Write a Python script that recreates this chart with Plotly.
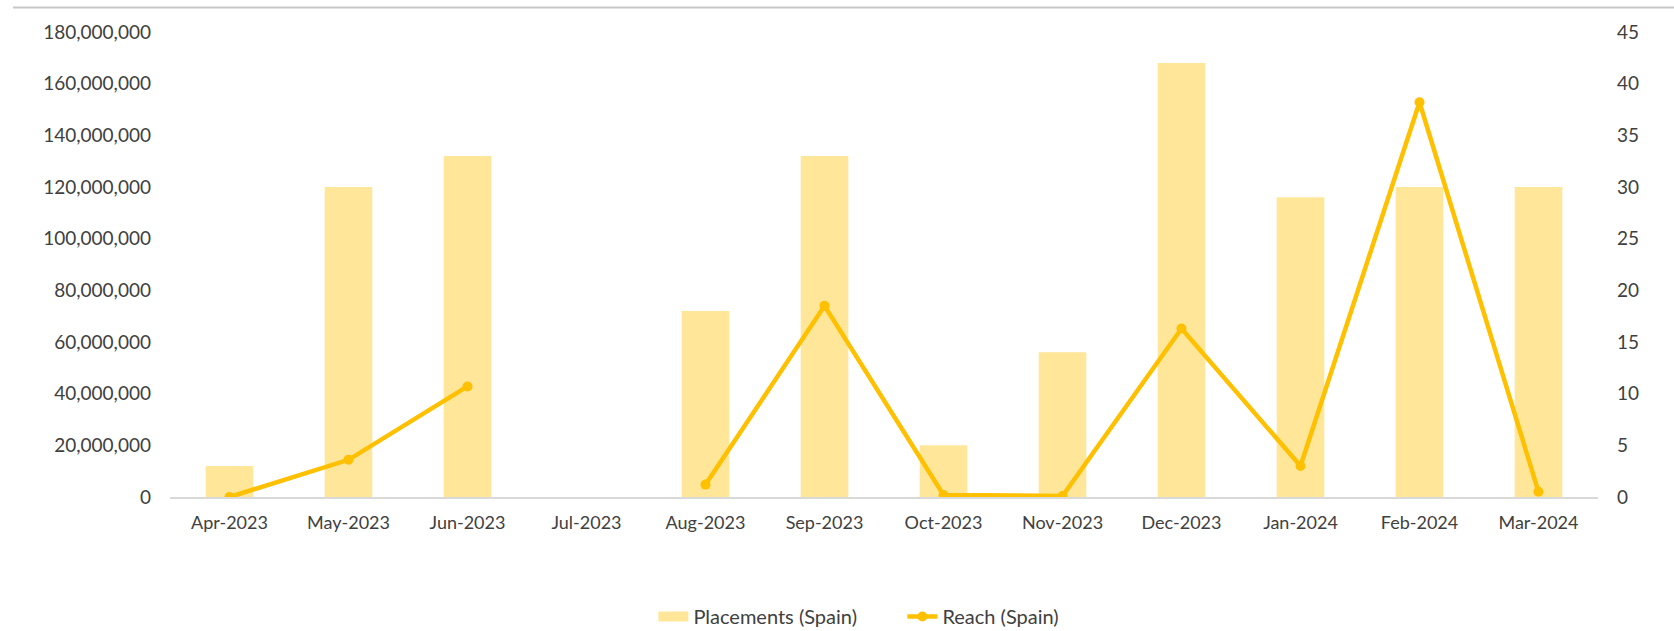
import plotly.graph_objects as go

categories = ["Apr-2023", "May-2023", "Jun-2023", "Jul-2023", "Aug-2023", "Sep-2023",
              "Oct-2023", "Nov-2023", "Dec-2023", "Jan-2024", "Feb-2024", "Mar-2024"]
placements = [12_000_000, 120_000_000, 132_000_000, 0, 72_000_000, 132_000_000,
              20_000_000, 56_000_000, 168_000_000, 116_000_000, 120_000_000, 120_000_000]
reach = [0.0, 3.6, 10.7, None, 1.2, 18.5, 0.2, 0.1, 16.3, 3.0, 38.2, 0.5]

left_ticks = [0, 20_000_000, 40_000_000, 60_000_000, 80_000_000, 100_000_000,
              120_000_000, 140_000_000, 160_000_000, 180_000_000]
left_tick_text = [f"{v:,}" for v in left_ticks]
right_ticks = [0, 5, 10, 15, 20, 25, 30, 35, 40, 45]

TEXT = "#404040"
FONT = "Lato"
BAR = "#FFE699"
LINE = "#FFC000"

fig = go.Figure()
fig.add_trace(go.Bar(
    x=categories, y=placements, name="Placements (Spain)",
    marker=dict(color=BAR, line=dict(width=0)),
    yaxis="y", showlegend=False,
))
# legend-only entry giving the wide flat swatch of the bar series
fig.add_trace(go.Scatter(
    x=[None], y=[None], name="Placements (Spain)", mode="lines",
    line=dict(color=BAR, width=11), yaxis="y", hoverinfo="skip",
))
fig.add_trace(go.Scatter(
    x=categories, y=reach, name="Reach (Spain)",
    mode="lines+markers",
    line=dict(color=LINE, width=4.5),
    marker=dict(color=LINE, size=10),
    connectgaps=False,
    yaxis="y2",
))

fig.update_layout(
    width=1674, height=631,
    margin=dict(l=170, r=76, t=32, b=134, autoexpand=False),
    paper_bgcolor="white", plot_bgcolor="white",
    font=dict(family=FONT, size=18, color=TEXT),
    bargap=0.6,
    showlegend=True,
    legend=dict(orientation="h", x=0.3385, xanchor="left", y=-0.257, yanchor="middle",
                entrywidth=204, entrywidthmode="pixels",
                font=dict(size=20, color=TEXT), traceorder="normal"),
    xaxis=dict(
        type="category", range=[-0.5, len(categories) - 0.5],
        showgrid=False, zeroline=False, automargin=False,
        showline=True, linecolor="#D9D9D9", linewidth=2,
        ticks="", ticklabelstandoff=8,
        tickfont=dict(size=18, color=TEXT),
    ),
    yaxis=dict(
        range=[0, 180_000_000], tickvals=left_ticks, ticktext=left_tick_text,
        showgrid=False, zeroline=False, showline=False, ticks="", automargin=False,
        ticklabelstandoff=18, tickfont=dict(size=19, color=TEXT),
    ),
    yaxis2=dict(
        range=[0, 45], tickvals=right_ticks, overlaying="y", side="right",
        showgrid=False, zeroline=False, showline=False, ticks="", automargin=False,
        ticklabelstandoff=18, tickfont=dict(size=19, color=TEXT),
    ),
    shapes=[dict(type="line", xref="paper", yref="paper",
                 x0=-0.11, x1=1.06, y0=1.0525, y1=1.0525,
                 line=dict(color="#C8C8C8", width=2))],
)

fig.write_html("out.html", config={"displayModeBar": False},
               post_script="document.body.style.margin='0';")
